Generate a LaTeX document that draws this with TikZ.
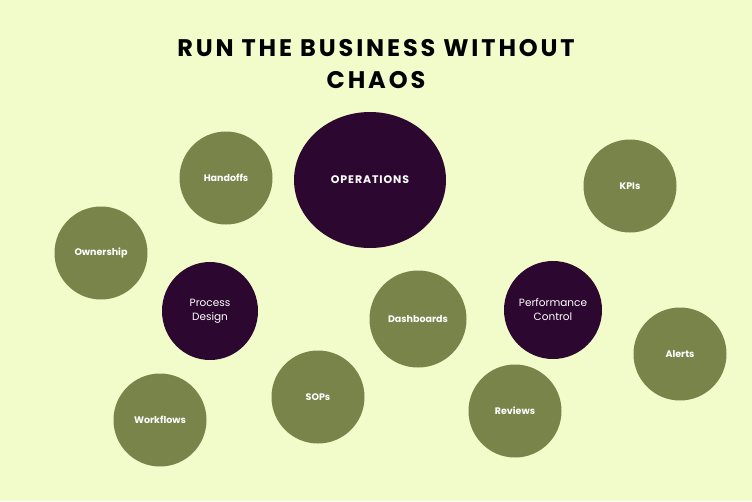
\documentclass[tikz,border=0pt]{standalone}
\usepackage{fontspec}
\setmainfont{Poppins}
\usetikzlibrary{backgrounds,shapes.geometric}
\definecolor{bg}{HTML}{F2FCCA}
\definecolor{dark}{HTML}{2C0830}
\definecolor{olive}{HTML}{79844A}
\definecolor{link}{HTML}{8A7A35}
\begin{document}
\begin{tikzpicture}[x=1pt,y=-1pt,
  hub/.style={ellipse,fill=dark,text=white,inner sep=0pt,align=center,font=\fontsize{10.5}{14}\selectfont},
  leaf/.style={circle,fill=olive,text=white,minimum size=93pt,inner sep=0pt,font=\bfseries\fontsize{9.5}{12}\selectfont},
  conn/.style={draw=link,line width=0.8pt}]
\fill[bg] (0,0) rectangle (752,501);
\useasboundingbox (0,0) rectangle (752,501);
\node[font=\bfseries\fontsize{24}{32}\selectfont\addfontfeature{LetterSpace=12},align=center] (title) at (376,64) {RUN THE BUSINESS WITHOUT\\CHAOS};
\node[hub,minimum width=152pt,minimum height=136pt,font=\bfseries\fontsize{11}{14}\selectfont\addfontfeature{LetterSpace=8}] (ops) at (370,180) {OPERATIONS};
\node[hub,minimum width=96pt,minimum height=98pt] (pd) at (210,311) {Process\\Design};
\node[hub,minimum width=98pt,minimum height=98pt] (pc) at (553,310) {Performance\\Control};
\node[leaf] (hand) at (226,178) {Handoffs};
\node[leaf] (own) at (101,253) {Ownership};
\node[leaf] (wf) at (160,420) {Workflows};
\node[leaf] (sop) at (318,397) {SOPs};
\node[leaf] (kpi) at (630,186) {KPIs};
\node[leaf,minimum size=97pt] (dash) at (418,319) {Dashboards};
\node[leaf] (al) at (680,354) {Alerts};
\node[leaf] (rev) at (515,411) {Reviews};
\begin{scope}[on background layer]
\draw[conn] (ops) -- (pd);
\draw[conn] (ops) -- (pc);
\draw[conn] (pd) -- (hand);
\draw[conn] (pd) -- (own);
\draw[conn] (pd) -- (wf);
\draw[conn] (pd) -- (sop);
\draw[conn] (pc) -- (kpi);
\draw[conn] (pc) -- (dash);
\draw[conn] (pc) -- (al);
\draw[conn] (pc) -- (rev);
\end{scope}
\end{tikzpicture}
\end{document}
